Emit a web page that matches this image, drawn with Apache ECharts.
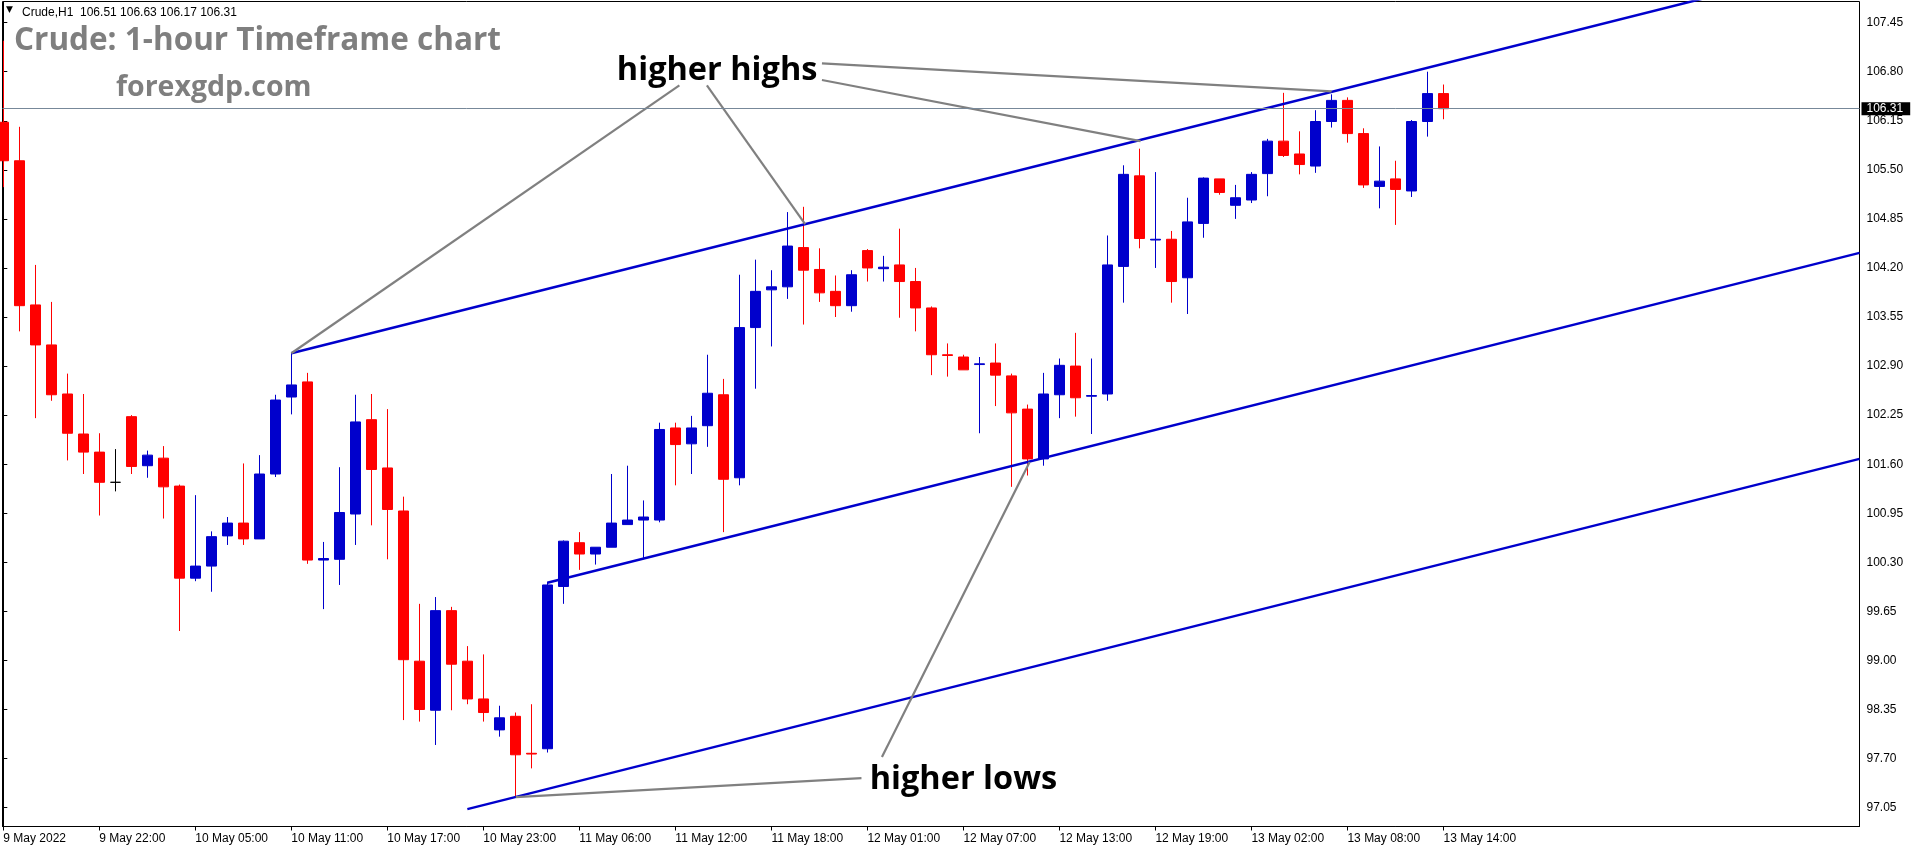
<!DOCTYPE html>
<html><head><meta charset="utf-8">
<script src="https://cdn.jsdelivr.net/npm/echarts@6/dist/echarts.min.js"></script>
<style>html,body{margin:0;padding:0;background:#fff;}#c{width:1916px;height:850px;}</style>
</head><body><div id="c"></div>
<script>
// ---------- data ----------
const tickLabels = ['9 May 2022','9 May 22:00','10 May 05:00','10 May 11:00','10 May 17:00','10 May 23:00','11 May 06:00','11 May 12:00','11 May 18:00','12 May 01:00','12 May 07:00','12 May 13:00','12 May 19:00','13 May 02:00','13 May 08:00','13 May 14:00'];
const tickBars = [0,6,12,18,24,30,36,42,48,54,60,66,72,78,84,90];
const priceTicks = [97.05,97.70,98.35,99.00,99.65,100.30,100.95,101.60,102.25,102.90,103.55,104.20,104.85,105.50,106.15,106.80,107.45];

const opens = [106.13,105.62,103.71,103.18,102.53,102.00,101.76,101.36,102.23,101.58,
101.68,101.31,100.09,100.25,100.65,100.82,100.61,101.47,102.49,102.69,
100.33,100.34,100.94,102.19,101.55,100.98,98.99,98.34,99.66,98.99,
98.49,98.08,98.26,97.77,97.83,99.98,100.56,100.41,100.50,100.80,
100.86,100.86,102.08,101.87,102.11,102.52,101.42,103.41,103.91,103.95,
104.47,104.18,103.89,103.70,104.43,104.19,104.24,104.02,103.67,103.05,
103.02,102.92,102.94,102.77,102.33,101.67,102.52,102.90,102.50,102.53,
104.22,105.42,104.57,104.58,104.07,104.79,105.38,105.03,105.10,105.45,
105.88,105.71,105.55,106.14,106.42,105.98,105.28,105.38,105.22,106.14,
106.51];
const highs = [107.21,106.07,104.24,103.75,102.80,102.53,102.01,101.80,102.25,101.78,
101.84,101.33,101.19,100.71,100.90,101.61,101.72,102.52,103.07,102.81,
100.57,101.56,102.52,102.53,102.33,101.17,99.75,99.84,99.71,99.19,
99.08,98.40,98.31,98.42,100.04,100.59,100.70,100.50,101.47,101.58,
101.12,102.15,102.15,102.24,103.05,102.73,104.11,104.31,104.17,104.94,
105.01,104.46,104.10,104.17,104.45,104.36,104.72,104.20,103.69,103.20,
103.05,103.02,103.20,102.80,102.39,102.81,103.00,103.34,103.00,104.63,
105.56,105.78,105.47,104.69,105.13,105.40,105.38,105.30,105.47,105.91,
106.52,106.01,106.29,106.50,106.46,106.05,105.81,105.62,106.16,106.80,
106.63];
const lows = [105.27,103.36,102.21,102.44,101.65,101.47,100.92,101.24,101.47,101.42,
100.88,99.39,100.05,99.91,100.53,100.53,100.61,101.43,102.26,100.28,
99.68,100.00,100.53,100.79,100.34,98.21,98.19,97.88,98.34,98.42,
98.19,97.99,97.18,97.57,97.78,99.75,100.20,100.27,100.50,100.80,
100.34,100.83,101.32,101.47,101.83,100.70,101.32,102.60,103.16,103.79,
103.45,103.75,103.55,103.62,104.02,104.02,103.54,103.36,102.78,102.76,
102.85,102.01,102.37,101.30,101.45,101.58,102.21,102.23,102.00,102.44,
103.74,104.46,104.20,103.74,103.59,104.60,105.17,104.85,105.06,105.15,
105.67,105.44,105.46,106.06,105.86,105.26,104.99,104.77,105.14,105.94,
106.17];
const closes = [105.62,103.70,103.18,102.52,102.01,101.76,101.36,101.36,101.57,101.72,
101.30,100.09,100.25,100.64,100.82,100.61,101.47,102.45,102.65,100.33,
100.35,100.96,102.16,101.53,101.00,99.01,98.35,99.66,98.95,98.49,
98.31,98.24,97.75,97.76,100.00,100.58,100.41,100.50,100.82,100.86,
100.90,102.06,101.86,102.08,102.54,101.40,103.41,103.89,103.95,104.49,
104.17,103.87,103.70,104.11,104.20,104.21,104.02,103.67,103.05,103.04,
102.85,102.93,102.78,102.28,101.67,102.53,102.91,102.48,102.51,104.24,
105.44,104.59,104.58,104.02,104.81,105.39,105.20,105.13,105.44,105.88,
105.69,105.57,106.14,106.42,105.98,105.30,105.35,105.24,106.14,106.51,
106.31];

// trend channel lines: [barFrom, priceFrom, barTo, priceTo]
const channelLines = [[18,103.07,116,108.29],[34,100.03,116,104.40],[29,97.03,116,101.67]];
// annotation pointer lines
const highLinks = [[42.25,106.62,18,103.07],[43.97,106.62,50.11,104.78],[51.16,106.91,83.01,106.54],[51.16,106.69,71.07,105.88]];
const lowLinks = [[53.63,97.44,32.03,97.19],[54.91,97.72,64.14,101.63]];
const annoTexts = [['higher highs',44.61,106.81],['higher lows',60.0,97.42]];

const symbolName = 'Crude,H1';
// ---------- chart ----------
const last = opens.length - 1;
const candles = opens.map((o,i)=>[i, o, closes[i], lows[i], highs[i]]);
const fmt = v => Number(v).toFixed(2);
const header = symbolName + '  ' + fmt(opens[last]) + ' ' + fmt(highs[last]) + ' ' + fmt(lows[last]) + ' ' + fmt(closes[last]);
const yMin = 96.80, yMax = 107.73;

const chart = echarts.init(document.getElementById('c'), null, {renderer:'canvas'});
chart.setOption({
  animation:false,
  backgroundColor:'#fff',
  title:[
    {text:'▼', left:6, top:5, padding:0, textStyle:{fontSize:9, fontFamily:'DejaVu Sans', color:'#000', fontWeight:'normal'}},
    {text:header, left:22, top:6.5, padding:0, textStyle:{fontSize:12, fontFamily:'Liberation Sans', color:'#000', fontWeight:'normal'}},
    {text:'Crude: 1-hour Timeframe chart', left:14, top:25.5, padding:0, textStyle:{fontSize:31.5, fontFamily:'Open Sans', color:'#7f7f7f', fontWeight:'bold'}},
    {text:'forexgdp.com', left:116, top:73, padding:0, textStyle:{fontSize:28.5, fontFamily:'Open Sans', color:'#7f7f7f', fontWeight:'bold'}}
  ],
  grid:{left:2.5, right:56.5, top:1.5, bottom:23.5, show:true, borderColor:'#000', borderWidth:1, backgroundColor:'#fff', containLabel:false, outerBoundsMode:'none'},
  xAxis:{type:'value', min:-0.05, max:116, splitLine:{show:false},
    axisLine:{show:true, onZero:false, lineStyle:{color:'#000', width:1}},
    axisTick:{show:true, customValues:tickBars, length:4, lineStyle:{color:'#000'}},
    axisLabel:{customValues:tickBars, formatter:v=>tickLabels[tickBars.indexOf(Math.round(v))] || '', align:'left', margin:6, color:'#000', fontSize:12, fontFamily:'Liberation Sans'}
  },
  yAxis:[
    {type:'value', position:'right', min:yMin, max:yMax, scale:true, splitLine:{show:false},
     axisLine:{show:true, lineStyle:{color:'#000', width:1}},
     axisTick:{show:true, customValues:priceTicks, length:4, lineStyle:{color:'#000'}},
     axisLabel:{customValues:priceTicks, formatter:v=>fmt(v), margin:7, color:'#000', fontSize:12, fontFamily:'Liberation Sans'}},
    {type:'value', position:'right', min:yMin, max:yMax, scale:true, splitLine:{show:false},
     axisLine:{show:false}, axisTick:{show:false},
     axisLabel:{customValues:[closes[last]], formatter:v=>fmt(v), margin:2, color:'#fff', backgroundColor:'#000', padding:[1,7,0,5], fontSize:12, fontFamily:'Liberation Sans'}}
  ],
  series:[
    {type:'candlestick', data:candles, barWidth:10, clip:true, silent:true,
     itemStyle:{color:'#0000cc', color0:'#ff0000', borderColor:'#0000cc', borderColor0:'#ff0000', borderColorDoji:'#000000', borderWidth:1},
     markLine:{symbol:'none', silent:true, animation:false, label:{show:false}, lineStyle:{color:'#778899', width:1, type:'solid'}, data:[{yAxis:closes[last]}]},
     z:2},
    {type:'lines', coordinateSystem:'cartesian2d', clip:true, silent:true, z:3,
     data:channelLines.map(l=>({coords:[[l[0],l[1]],[l[2],l[3]]]})),
     lineStyle:{color:'#0000cc', width:2.5, opacity:1, curveness:0}},
    {type:'lines', coordinateSystem:'cartesian2d', clip:true, silent:true, z:4,
     data:highLinks.concat(lowLinks).map(l=>({coords:[[l[0],l[1]],[l[2],l[3]]]})),
     lineStyle:{color:'#808080', width:2.2, opacity:1, curveness:0}},
    {type:'scatter', silent:true, z:5, symbolSize:1, itemStyle:{color:'rgba(0,0,0,0)', opacity:1},
     data:annoTexts.map(a=>({name:a[0], value:[a[1],a[2]]})),
     label:{show:true, position:'inside', formatter:p=>p.name, color:'#000', opacity:1, fontSize:32.5, fontWeight:'bold', fontFamily:'Open Sans'}}
  ]
});
</script></body></html>
